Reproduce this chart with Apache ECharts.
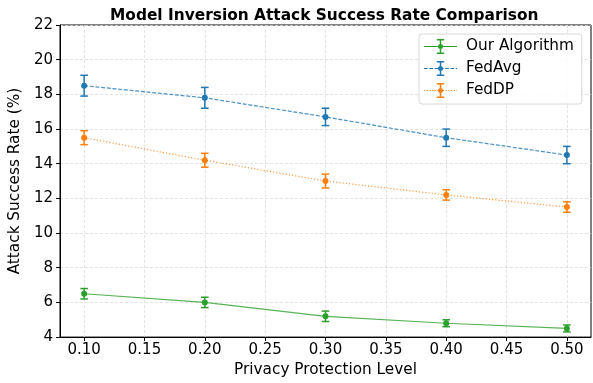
<!DOCTYPE html>
<html>
<head>
<meta charset="utf-8">
<script src="https://cdn.jsdelivr.net/npm/echarts@6/dist/echarts.min.js"></script>
<style>html,body{margin:0;padding:0;background:#fff}#c{width:593px;height:383px}</style>
</head>
<body>
<div id="c"></div>
<script>
// ---- data ----
const privacyLevels = [0.10, 0.20, 0.30, 0.40, 0.50];
const xTickValues = [0.10, 0.15, 0.20, 0.25, 0.30, 0.35, 0.40, 0.45, 0.50];
const ourAlgorithm = [6.5, 6.0, 5.2, 4.8, 4.5];
const ourAlgorithmErr = [0.3, 0.3, 0.3, 0.2, 0.2];
const fedAvg = [18.5, 17.8, 16.7, 15.5, 14.5];
const fedAvgErr = [0.6, 0.6, 0.5, 0.5, 0.5];
const fedDP = [15.5, 14.2, 13.0, 12.2, 11.5];
const fedDPErr = [0.4, 0.4, 0.4, 0.3, 0.3];
const seriesNames = ['Our Algorithm', 'FedAvg', 'FedDP'];

const FONT = 'DejaVu Sans';
const colors = ['#2ca02c', '#1f77b4', '#ff7f0e'];

function rect(x0, y0, x1, y1) {
  return 'M' + x0 + ' ' + y0 + 'H' + x1 + 'V' + y1 + 'H' + x0 + 'Z';
}
function legendIcon(kind) {
  let p = '';
  const ly0 = 7.4, ly1 = 8.6;
  if (kind === 'solid') {
    p += rect(0, ly0, 33, ly1);
  } else {
    const on = kind === 'dashed' ? 3.7 : 1.1;
    const off = 1.6;
    for (let x = 0; x < 33; x += on + off) {
      p += rect(x, ly0, Math.min(x + on, 33), ly1);
    }
  }
  p += rect(15.75, 0.5, 17.25, 15.5);
  p += rect(12.8, 0.5, 20.2, 1.9);
  p += rect(12.8, 14.1, 20.2, 15.5);
  p += 'M14 8A2.5 2.5 0 1 1 19 8A2.5 2.5 0 1 1 14 8Z';
  return 'path://' + p;
}

function errData(vals, errs) {
  return privacyLevels.map((x, i) => [x, vals[i] - errs[i], vals[i] + errs[i]]);
}
function errSeries(name, vals, errs, color) {
  return {
    type: 'custom',
    name: name,
    itemStyle: { color: color },
    data: errData(vals, errs),
    encode: { x: 0, y: [1, 2] },
    z: 3,
    renderItem: function (params, api) {
      const lo = api.coord([api.value(0), api.value(1)]);
      const hi = api.coord([api.value(0), api.value(2)]);
      const hw = 3.8;
      const st = { stroke: color, lineWidth: 1.5 };
      return {
        type: 'group',
        children: [
          { type: 'line', shape: { x1: lo[0], y1: lo[1], x2: hi[0], y2: hi[1] }, style: st },
          { type: 'line', shape: { x1: lo[0] - hw, y1: lo[1], x2: lo[0] + hw, y2: lo[1] }, style: st },
          { type: 'line', shape: { x1: hi[0] - hw, y1: hi[1], x2: hi[0] + hw, y2: hi[1] }, style: st }
        ]
      };
    }
  };
}
function lineSeries(name, vals, color, dash) {
  return {
    type: 'line',
    name: name,
    data: privacyLevels.map((x, i) => [x, vals[i]]),
    symbol: 'circle',
    symbolSize: 6,
    itemStyle: { color: color },
    lineStyle: { color: color, width: 1.2, type: dash, opacity: 0.8 },
    z: 4
  };
}

const chart = echarts.init(document.getElementById('c'), null, { renderer: 'canvas' });
chart.setOption({
  animation: false,
  backgroundColor: '#fff',
  textStyle: { fontFamily: FONT },
  title: {
    text: 'Model Inversion Attack Success Rate Comparison',
    left: 110,
    top: 8,
    padding: 0,
    textStyle: { fontFamily: FONT, fontWeight: 'bold', fontSize: 15.4, color: '#000' }
  },
  legend: {
    orient: 'vertical',
    left: 419,
    top: 34,
    padding: [5, 8, 6, 5],
    itemWidth: 33,
    itemHeight: 16,
    itemGap: 7,
    borderColor: '#d8d8d8',
    borderWidth: 1,
    borderRadius: 3,
    backgroundColor: 'rgba(255,255,255,0.85)',
    textStyle: { fontFamily: FONT, fontSize: 15.3, color: '#000', padding: [0, 0, 0, 4] },
    data: [
      { name: seriesNames[0], icon: legendIcon('solid') },
      { name: seriesNames[1], icon: legendIcon('dashed') },
      { name: seriesNames[2], icon: legendIcon('dotted') }
    ]
  },
  grid: {
    left: 60, right: 2, top: 25, bottom: 38,
    show: true, borderColor: '#000', borderWidth: 1
  },
  xAxis: {
    type: 'value',
    min: 0.08, max: 0.52,
    name: 'Privacy Protection Level',
    nameLocation: 'middle',
    nameGap: 23,
    nameTextStyle: { fontFamily: FONT, fontSize: 15.3, color: '#000' },
    axisLine: { show: true, onZero: false, lineStyle: { color: '#000', width: 1 } },
    axisTick: { show: true, length: 4, lineStyle: { color: '#000' }, customValues: xTickValues },
    axisLabel: {
      customValues: xTickValues, margin: 6,
      fontFamily: FONT, fontSize: 15, color: '#000',
      formatter: v => v.toFixed(2)
    },
    splitLine: { show: true, lineStyle: { color: '#dcdcdc', type: [3, 2], width: 0.8 } }
  },
  yAxis: {
    type: 'value',
    min: 4, max: 22, interval: 2,
    name: 'Attack Success Rate (%)',
    nameLocation: 'middle',
    nameGap: 25,
    nameTextStyle: { fontFamily: FONT, fontSize: 15.3, color: '#000' },
    axisLine: { show: true, lineStyle: { color: '#000', width: 1 } },
    axisTick: { show: true, length: 4, lineStyle: { color: '#000' } },
    axisLabel: { margin: 7, fontFamily: FONT, fontSize: 15, color: '#000' },
    splitLine: { show: true, lineStyle: { color: '#dcdcdc', type: [3, 2], width: 0.8 } }
  },
  series: [
    errSeries(seriesNames[0], ourAlgorithm, ourAlgorithmErr, colors[0]),
    errSeries(seriesNames[1], fedAvg, fedAvgErr, colors[1]),
    errSeries(seriesNames[2], fedDP, fedDPErr, colors[2]),
    lineSeries(seriesNames[0], ourAlgorithm, colors[0], 'solid'),
    lineSeries(seriesNames[1], fedAvg, colors[1], [4, 1.7]),
    lineSeries(seriesNames[2], fedDP, colors[2], [1.2, 2])
  ]
});
</script>
</body>
</html>
